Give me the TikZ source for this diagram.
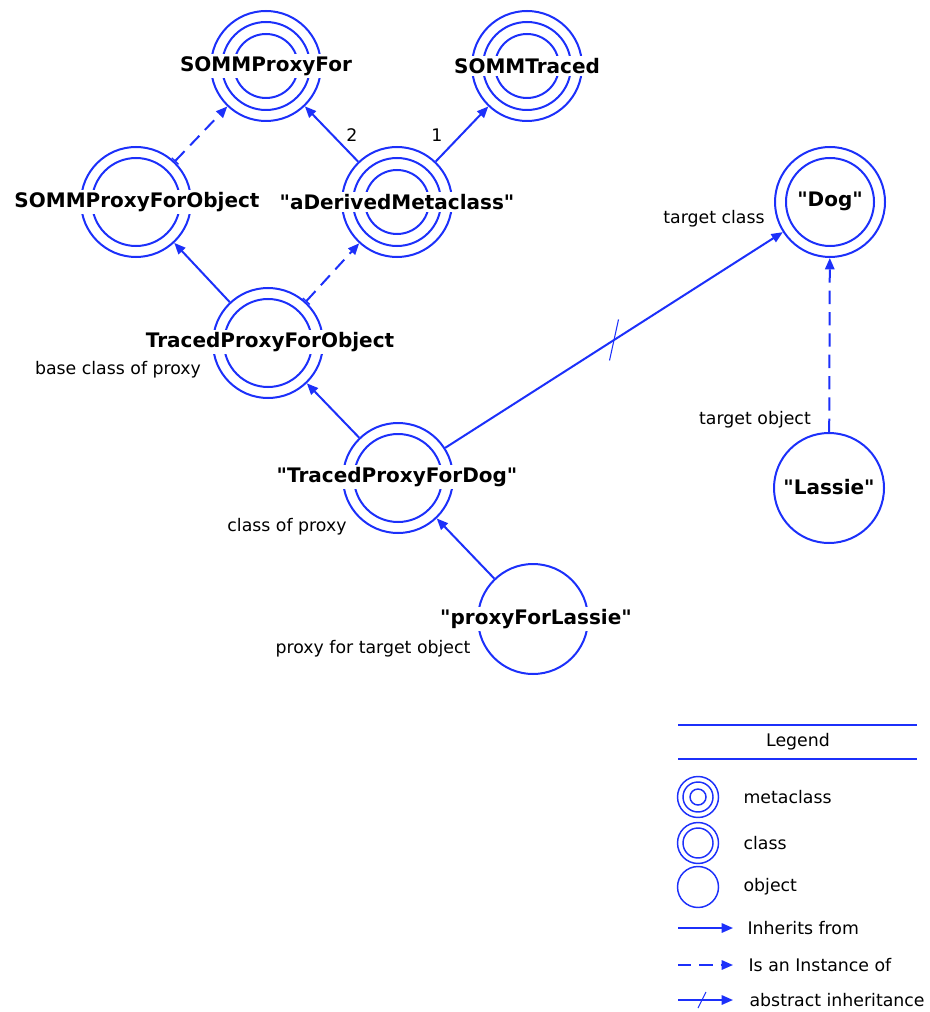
\documentclass[tikz,border=0pt]{standalone}
\usepackage{fontspec}
\setmainfont{DejaVu Sans}[Ligatures=TeXOff]
\usetikzlibrary{arrows.meta}
\definecolor{lineblue}{RGB}{28,48,250}
\begin{document}
\begin{tikzpicture}[x=0.75pt,y=-0.75pt,
  ringA/.style={circle,draw=lineblue,line width=1.5pt,minimum size=82.5pt,inner sep=0pt},
  ringB/.style={circle,draw=lineblue,line width=1.5pt,minimum size=66pt,inner sep=0pt},
  ringC/.style={circle,draw=lineblue,line width=1.5pt,minimum size=48pt,inner sep=0pt},
  lgA/.style={circle,draw=lineblue,line width=1.1pt,minimum size=30.75pt,inner sep=0pt},
  lgB/.style={circle,draw=lineblue,line width=1.1pt,minimum size=22.5pt,inner sep=0pt},
  lgC/.style={circle,draw=lineblue,line width=1.1pt,minimum size=12pt,inner sep=0pt},
  nm/.style={fill=white,inner sep=1.5pt,font=\bfseries\fontsize{15}{18}\selectfont},
  lbl/.style={inner sep=1pt,font=\fontsize{13}{15}\selectfont},
  inh/.style={draw=lineblue,line width=1.5pt,-{Triangle[length=8.5pt,width=7pt]}},
  inst/.style={draw=lineblue,line width=1.5pt,dash pattern=on 10pt off 6pt,
     -{Triangle[length=8.5pt,width=7pt]}},
  insttick/.style={inst,{Bar[width=7pt,line width=1pt]}-{Triangle[length=8.5pt,width=7pt]}},
  legline/.style={draw=lineblue,line width=2.2pt},
  tick/.style={draw=lineblue,line width=0.8pt},
]
\useasboundingbox (0,0) rectangle (929,1012);

% metaclasses
\node[ringA] (spf) at (266,66) {};
\node[ringB] at (spf) {};
\node[ringC] at (spf) {};
\node[ringA] (spt) at (527,66) {};
\node[ringB] at (spt) {};
\node[ringC] at (spt) {};
\node[ringA] (adm) at (397,202) {};
\node[ringB] at (adm) {};
\node[ringC] at (adm) {};
% classes
\node[ringA] (spfo) at (136,202) {};
\node[ringB] at (spfo) {};
\node[ringA] (tpfo) at (268,343) {};
\node[ringB] at (tpfo) {};
\node[ringA] (tpfd) at (398,478) {};
\node[ringB] at (tpfd) {};
\node[ringA] (dog) at (830,202) {};
\node[ringB] at (dog) {};
% objects
\node[ringA] (pfl) at (533,619) {};
\node[ringA] (las) at (829,488) {};

% names
\node[nm] (tspf) at (266,66) {SOMMProxyFor};
\node[nm] (tspt) at (527,66) {SOMMTraced};
\node[nm] (tadm) at (397,202) {"aDerivedMetaclass"};
\node[nm] (tspfo) at (137,202) {SOMMProxyForObject};
\node[nm] (ttpfo) at (270,342) {TracedProxyForObject};
\node[nm] (ttpfd) at (397,477) {"TracedProxyForDog"};
\node[nm] (tdog) at (830,201) {"Dog"};
\node[nm] (tpfl) at (536,619) {"proxyForLassie"};
\node[nm] (tlas) at (829,487) {"Lassie"};

% labels
\node[lbl] (l2) at (352,135) {2};
\node[lbl] (l1) at (437,135) {1};
\node[lbl] (ltc) at (714,219) {target class};
\node[lbl] (lto) at (755,420) {target object};
\node[lbl] (lbc) at (118,370) {base class of proxy};
\node[lbl] (lcp) at (287,527) {class of proxy};
\node[lbl] (lpt) at (373,649) {proxy for target object};

% connectors
\draw[insttick] (spfo) -- (spf);
\draw[inh] (adm) -- (spf);
\draw[inh] (adm) -- (spt);
\draw[inh] (tpfo) -- (spfo);
\draw[insttick] (tpfo) -- (adm);
\draw[inh] (tpfd) -- (tpfo);
\draw[inh] (pfl) -- (tpfd);
\draw[inh] (tpfd) -- coordinate[pos=0.5] (absmid) (dog);
\draw[tick] ([shift={(-4.5,20.5)}]absmid) -- ([shift={(4.5,-20.5)}]absmid);
\draw[inst] (las) -- (dog);

% legend
\coordinate (lgl1) at (678,725); \coordinate (lgr1) at (917,725);
\coordinate (lgl2) at (678,759); \coordinate (lgr2) at (917,759);
\draw[legline] (lgl1) -- (lgr1);
\draw[legline] (lgl2) -- (lgr2);
\node[lbl] (lgt) at (798,742) {Legend};
\node[lgA] (lm) at (698,797) {};
\node[lgB] at (lm) {};
\node[lgC] at (lm) {};
\node[lgA] (lc) at (698,843) {};
\node[lgB] at (lc) {};
\node[lgA] (lo) at (698,887) {};
\node[lbl,anchor=west] (lmt) at (742,797) {metaclass};
\node[lbl,anchor=west] (lct) at (742,843) {class};
\node[lbl,anchor=west] (lot) at (742,887) {object};
\coordinate (a1s) at (678,928); \coordinate (a1e) at (733,928);
\coordinate (a2s) at (678,965); \coordinate (a2e) at (733,965);
\coordinate (a3s) at (678,1000); \coordinate (a3e) at (733,1000);
\draw[inh] (a1s) -- (a1e);
\draw[inst] (a2s) -- (a2e);
\draw[inh] (a3s) -- (a3e);
\draw[tick] (698,1008) -- (706,992);
\node[lbl,anchor=west] (a1t) at (746,928) {Inherits from};
\node[lbl,anchor=west] (a2t) at (747,965) {Is an Instance of};
\node[lbl,anchor=west] (a3t) at (748,1000) {abstract inheritance};
\end{tikzpicture}
\end{document}
